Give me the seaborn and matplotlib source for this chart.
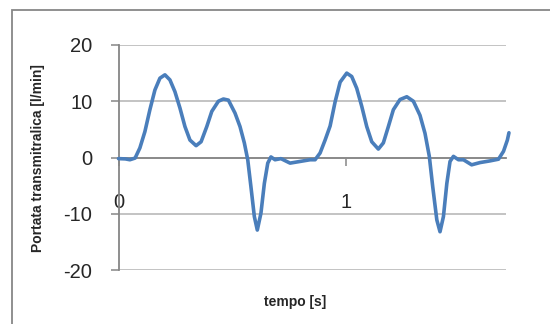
import matplotlib
matplotlib.use("Agg")
import matplotlib.pyplot as plt
import seaborn as sns
import pandas as pd
from matplotlib.patches import Rectangle

# --- data ---
tempo = [0.000, 0.030, 0.050, 0.073, 0.094, 0.116, 0.138, 0.160, 0.182, 0.204,
         0.226, 0.248, 0.270, 0.292, 0.314, 0.341, 0.363, 0.388, 0.410, 0.439,
         0.461, 0.483, 0.512, 0.534, 0.553, 0.568, 0.582, 0.597, 0.610, 0.626,
         0.641, 0.656, 0.670, 0.688, 0.714, 0.754, 0.798, 0.842, 0.864, 0.886,
         0.908, 0.930, 0.952, 0.974, 1.003, 1.025, 1.047, 1.069, 1.091, 1.113,
         1.142, 1.164, 1.186, 1.208, 1.237, 1.267, 1.296, 1.325, 1.347, 1.366,
         1.381, 1.399, 1.413, 1.428, 1.443, 1.457, 1.472, 1.494, 1.516, 1.552,
         1.589, 1.633, 1.670, 1.692, 1.709, 1.716]
portata = [-0.2, -0.25, -0.4, -0.1, 1.7, 4.6, 8.5, 12.0, 14.1, 14.7,
           13.8, 11.7, 8.8, 5.5, 3.1, 2.1, 2.8, 5.5, 8.2, 10.0,
           10.4, 10.2, 7.9, 5.5, 2.6, -0.4, -5.2, -10.5, -12.9, -9.9,
           -4.6, -1.0, 0.1, -0.4, -0.2, -1.0, -0.7, -0.4, -0.4, 0.8,
           3.1, 5.6, 9.9, 13.4, 15.0, 14.4, 12.3, 9.1, 5.5, 2.8,
           1.5, 2.6, 5.5, 8.5, 10.3, 10.8, 10.0, 7.5, 4.3, 0.2,
           -5.2, -11.1, -13.2, -10.5, -4.6, -0.7, 0.2, -0.4, -0.4, -1.3,
           -0.9, -0.6, -0.3, 1.1, 3.1, 4.4]
x_ticks = [0, 1]
y_ticks = [-20, -10, 0, 10, 20]
x_label = "tempo [s]"
y_label = "Portata transmitralica [l/min]"

df = pd.DataFrame({"tempo": tempo, "portata": portata})

sns.set_style("white")
plt.rcParams["font.family"] = ["Liberation Sans", "DejaVu Sans"]

fig = plt.figure(figsize=(5.5, 3.24), dpi=100)
ax = fig.add_axes([118.5 / 550, 1 - 270 / 324, (506 - 118.5) / 550, (270 - 45) / 324])

sns.lineplot(data=df, x="tempo", y="portata", ax=ax, color="#4A7EBB",
             linewidth=2.6, sort=False, zorder=3)
for l in ax.lines:
    l.set_clip_on(False)
    l.set_solid_capstyle("round")
    l.set_solid_joinstyle("round")

ax.set_xlim(0, 1.703)
ax.set_ylim(-20, 20)
ax.set_xticks(x_ticks)
ax.set_yticks(y_ticks)
ax.set_xticklabels([str(v) for v in x_ticks])
ax.set_yticklabels([str(v) for v in y_ticks])

ax.yaxis.grid(True, color="#BEBEBE", linewidth=1.3)
ax.xaxis.grid(False)
ax.set_axisbelow(True)

for s in ["top", "right"]:
    ax.spines[s].set_visible(False)
ax.spines["bottom"].set_position(("data", 0))
ax.spines["bottom"].set_color("#868686")
ax.spines["bottom"].set_linewidth(1.3)
ax.spines["left"].set_color("#868686")
ax.spines["left"].set_linewidth(1.3)

ax.tick_params(axis="y", direction="out", length=5.8, width=1.1, color="#868686",
               pad=13, labelsize=14.5, left=True)
ax.tick_params(axis="x", direction="out", length=5.8, width=1.1, color="#868686",
               pad=19.5, labelsize=14.5, bottom=True)

ax.set_xlabel("")
ax.set_ylabel("")
fig.text(295 / 550, 1 - 302 / 324, x_label, ha="center", va="center",
         fontsize=10, fontweight="bold")
fig.text(38 / 550, 1 - 158.5 / 324, y_label, ha="center", va="center",
         rotation=90, fontsize=10, fontweight="bold")

# outer chart frame (partially cropped in the reference)
fig.add_artist(Rectangle((11.6 / 550, -0.1), 1.2, 1 - 10 / 324 + 0.1,
                         transform=fig.transFigure, fill=False,
                         edgecolor="#878787", linewidth=1.3))

fig.savefig("out.png", dpi=100)
